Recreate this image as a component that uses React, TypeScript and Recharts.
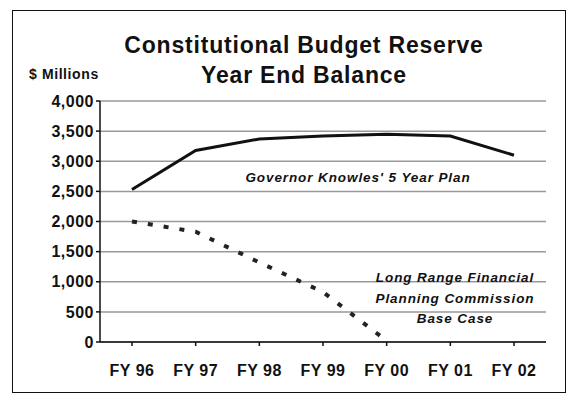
import { LineChart, Line, XAxis, YAxis, CartesianGrid } from 'recharts';

const years = ['FY 96', 'FY 97', 'FY 98', 'FY 99', 'FY 00', 'FY 01', 'FY 02'];
const governorPlan = [2530, 3180, 3370, 3420, 3450, 3420, 3100];
const commissionBase = [2000, 1830, 1320, 830, 20, null, null];
const yTicks = [0, 500, 1000, 1500, 2000, 2500, 3000, 3500, 4000];

const FONT = '"Liberation Sans", Arial, sans-serif';

const data = years.map((year, i) => ({
  year,
  governor: governorPlan[i],
  commission: commissionBase[i],
}));

const tickStyle = { fill: '#111', fontSize: 16, fontWeight: 700, fontFamily: FONT, letterSpacing: 0.5 };

const noteStyle = {
  position: 'absolute' as const,
  transform: 'translateX(-50%)',
  whiteSpace: 'nowrap' as const,
  fontSize: 13.5,
  fontWeight: 700,
  fontStyle: 'italic',
  letterSpacing: 0.9,
  color: '#111',
};

export default function App() {
  return (
    <div style={{ position: 'absolute', left: 0, top: 0, width: 575, height: 401, background: '#fff', fontFamily: FONT }}>
      <div
        style={{
          position: 'absolute',
          left: 12,
          top: 10,
          width: 552,
          height: 381,
          border: '1.5px solid #111',
        }}
      />
      <div
        style={{
          position: 'absolute',
          left: 0,
          width: 608,
          top: 30,
          textAlign: 'center',
          fontSize: 23,
          fontWeight: 700,
          letterSpacing: 0.8,
          lineHeight: '30px',
          color: '#111',
        }}
      >
        Constitutional Budget Reserve
        <br />
        Year End Balance
      </div>
      <div style={{ position: 'absolute', left: 29, top: 66, fontSize: 14, fontWeight: 700, letterSpacing: 0.6, color: '#111' }}>
        $ Millions
      </div>
      <LineChart width={575} height={401} data={data} margin={{ top: 101, right: 29, bottom: 19, left: 0 }}>
        <CartesianGrid vertical={false} stroke="#999" strokeWidth={1.5} />
        <XAxis
          dataKey="year"
          stroke="#111"
          strokeWidth={1.5}
          tick={tickStyle}
          tickSize={4}
          tickMargin={19}
          height={40}
          padding={{ left: 32, right: 32 }}
        />
        <XAxis xAxisId="top" orientation="top" dataKey="year" stroke="#111" strokeWidth={1.5} tick={false} tickLine={false} height={0} />
        <YAxis
          domain={[0, 4000]}
          ticks={yTicks}
          stroke="#111"
          strokeWidth={1.5}
          tick={tickStyle}
          tickFormatter={(v: number) => v.toLocaleString('en-US')}
          tickSize={4}
          tickMargin={2}
          width={100}
          interval={0}
        />
        <YAxis yAxisId="right" orientation="right" stroke="#111" strokeWidth={1.5} tick={false} tickLine={false} width={0} />
        <Line
          dataKey="governor"
          stroke="#111"
          strokeWidth={3}
          dot={false}
          isAnimationActive={false}
        />
        <Line
          dataKey="commission"
          stroke="#222"
          strokeWidth={4}
          strokeDasharray="5 11"
          dot={false}
          connectNulls={false}
          isAnimationActive={false}
        />
      </LineChart>
      <div style={{ ...noteStyle, left: 358, top: 170 }}>Governor Knowles' 5 Year Plan</div>
      <div style={{ ...noteStyle, left: 455, top: 268, textAlign: 'center', lineHeight: '20.5px' }}>
        Long Range Financial
        <br />
        Planning Commission
        <br />
        Base Case
      </div>
    </div>
  );
}
